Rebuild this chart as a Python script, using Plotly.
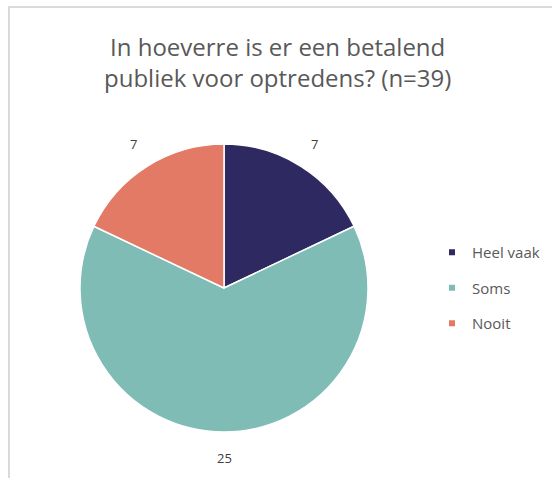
import math
import plotly.graph_objects as go

categories = ["Heel vaak", "Soms", "Nooit"]
values = [7, 25, 7]
colors = ["#2F2961", "#7FBCB6", "#E27A66"]
title_text = "In hoeverre is er een betalend<br>publiek voor optredens? (n=39)"

W, H = 552, 478
cx, cy, r = 224, 288, 144

fig = go.Figure()
fig.add_trace(go.Pie(
    labels=categories, values=values, sort=False, direction="clockwise", rotation=0,
    marker=dict(colors=colors, line=dict(color="white", width=1.5)),
    textinfo="none",
    domain=dict(x=[(cx - r) / W, (cx + r) / W], y=[(H - cy - r) / H, (H - cy + r) / H]),
    showlegend=False, hoverinfo="label+value",
))
for c, col in zip(categories, colors):
    fig.add_trace(go.Scatter(
        x=[None], y=[None], mode="markers", name=c, legendgroup=c,
        marker=dict(symbol="square", size=6, color=col), showlegend=True,
    ))

# value labels placed outside each slice at its mid angle
annotations = []
total = sum(values)
cum = 0
lr = r + 26
for v in values:
    mid = (cum + v / 2) / total * 2 * math.pi
    cum += v
    px = cx + lr * math.sin(mid)
    py = cy - lr * math.cos(mid)
    annotations.append(dict(text=str(v), x=px / W, y=1 - py / H, xref="paper", yref="paper",
                            xanchor="center", yanchor="middle", showarrow=False,
                            font=dict(family="Open Sans", size=13, color="#404040")))
annotations.append(dict(text=title_text, x=277 / W, y=1 - 28 / H, xref="paper", yref="paper",
                        xanchor="center", yanchor="top", showarrow=False,
                        font=dict(family="Open Sans", size=24, color="#595959")))

fig.update_layout(
    width=W, height=H, margin=dict(l=0, r=0, t=0, b=0),
    paper_bgcolor="white", plot_bgcolor="white",
    xaxis=dict(visible=False), yaxis=dict(visible=False),
    legend=dict(x=(452 - 20) / W, y=1 - 288 / H, xanchor="left", yanchor="middle",
                font=dict(family="Open Sans", size=15, color="#595959"),
                tracegroupgap=13, itemwidth=30, bgcolor="rgba(0,0,0,0)"),
    annotations=annotations,
    shapes=[dict(type="rect", xref="paper", yref="paper", x0=9 / W, x1=1.2, y0=-0.2, y1=1 - 7 / H,
                 line=dict(color="#DADADA", width=2), layer="below")],
)
fig.write_html("out.html", config={"displayModeBar": False},
               post_script="document.body.style.margin='0';document.body.style.overflow='hidden';")
